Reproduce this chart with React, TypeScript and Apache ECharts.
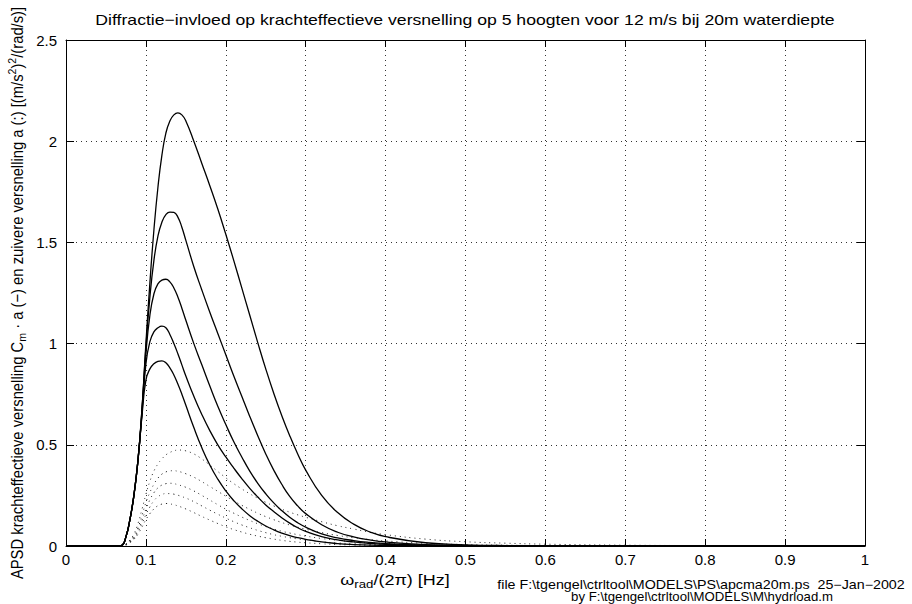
import React, { useEffect, useRef } from 'react';
import * as echarts from 'echarts';

// frequency axis (Hz) shared by all curves
const freq = [0,
  0.06, 0.065, 0.07, 0.075, 0.08, 0.085, 0.09, 0.095, 0.1, 0.105, 0.11, 0.115, 0.12, 0.125, 0.13, 0.135, 0.14, 0.145, 0.15,
  0.16, 0.17, 0.18, 0.19, 0.2, 0.21, 0.22, 0.23, 0.24, 0.25, 0.26, 0.27, 0.28, 0.29, 0.3,
  0.32, 0.34, 0.36, 0.38, 0.4,
  0.45, 0.5, 0.55, 0.6, 0.7, 0.8, 0.9, 1.0];

// Cm * a (solid) at 5 heights
const solid1 = [0,
  0, 0, 0.003, 0.045, 0.13, 0.25, 0.42, 0.67, 1.0, 1.3, 1.56, 1.77, 1.93, 2.04, 2.1, 2.13, 2.14, 2.13, 2.1,
  2.0, 1.89, 1.78, 1.665, 1.54, 1.41, 1.275, 1.14, 1.005, 0.875, 0.755, 0.645, 0.545, 0.455, 0.375,
  0.25, 0.165, 0.108, 0.07, 0.046,
  0.016, 0.006, 0.002, 0.001, 0, 0, 0, 0];
const solid2 = [0,
  0, 0, 0.003, 0.045, 0.13, 0.25, 0.42, 0.67, 0.98, 1.23, 1.41, 1.53, 1.6, 1.637, 1.65, 1.648, 1.625, 1.575, 1.51,
  1.38, 1.265, 1.155, 1.05, 0.945, 0.84, 0.74, 0.64, 0.545, 0.455, 0.375, 0.305, 0.245, 0.198, 0.16,
  0.105, 0.068, 0.045, 0.03, 0.02,
  0.007, 0.002, 0, 0, 0, 0, 0, 0];
const solid3 = [0,
  0, 0, 0.003, 0.045, 0.13, 0.25, 0.42, 0.66, 0.95, 1.14, 1.245, 1.295, 1.314, 1.318, 1.305, 1.275, 1.23, 1.175, 1.115,
  1.0, 0.895, 0.79, 0.69, 0.6, 0.515, 0.44, 0.37, 0.31, 0.258, 0.213, 0.175, 0.142, 0.115, 0.093,
  0.06, 0.04, 0.027, 0.018, 0.012,
  0.004, 0.001, 0, 0, 0, 0, 0, 0];
const solid4 = [0,
  0, 0, 0.003, 0.045, 0.13, 0.25, 0.42, 0.65, 0.9, 1.01, 1.058, 1.078, 1.086, 1.078, 1.045, 1.0, 0.95, 0.895, 0.84,
  0.74, 0.65, 0.57, 0.5, 0.44, 0.385, 0.333, 0.285, 0.242, 0.203, 0.17, 0.14, 0.113, 0.09, 0.072,
  0.046, 0.03, 0.02, 0.013, 0.008,
  0.002, 0, 0, 0, 0, 0, 0, 0];
const solid5 = [0,
  0, 0, 0.003, 0.045, 0.13, 0.25, 0.42, 0.64, 0.82, 0.875, 0.9, 0.912, 0.915, 0.905, 0.88, 0.845, 0.8, 0.75, 0.695,
  0.585, 0.485, 0.4, 0.33, 0.272, 0.224, 0.184, 0.15, 0.122, 0.099, 0.08, 0.064, 0.051, 0.041, 0.033,
  0.02, 0.012, 0.007, 0.004, 0.003,
  0.001, 0, 0, 0, 0, 0, 0, 0];

// pure acceleration a (dotted) at 5 heights
const dotted1 = [0,
  0, 0, 0.002, 0.01, 0.03, 0.06, 0.11, 0.18, 0.255, 0.32, 0.37, 0.405, 0.43, 0.45, 0.462, 0.47, 0.474, 0.474, 0.47,
  0.455, 0.43, 0.4, 0.368, 0.337, 0.308, 0.282, 0.258, 0.236, 0.216, 0.198, 0.182, 0.167, 0.154, 0.142,
  0.12, 0.1, 0.084, 0.068, 0.056,
  0.034, 0.021, 0.014, 0.009, 0.004, 0.002, 0.001, 0];
const dotted2 = [0,
  0, 0, 0.002, 0.008, 0.025, 0.05, 0.09, 0.15, 0.215, 0.265, 0.305, 0.335, 0.355, 0.366, 0.371, 0.372, 0.369, 0.364, 0.357,
  0.34, 0.318, 0.294, 0.27, 0.246, 0.223, 0.201, 0.181, 0.162, 0.145, 0.13, 0.116, 0.104, 0.093, 0.083,
  0.066, 0.052, 0.041, 0.032, 0.025,
  0.013, 0.007, 0.004, 0.002, 0.001, 0, 0, 0];
const dotted3 = [0,
  0, 0, 0.002, 0.007, 0.021, 0.043, 0.078, 0.127, 0.182, 0.228, 0.263, 0.287, 0.301, 0.308, 0.31, 0.308, 0.303, 0.297, 0.29,
  0.272, 0.25, 0.227, 0.204, 0.182, 0.162, 0.143, 0.126, 0.11, 0.096, 0.084, 0.073, 0.064, 0.056, 0.049,
  0.037, 0.028, 0.021, 0.016, 0.012,
  0.005, 0.002, 0.001, 0, 0, 0, 0, 0];
const dotted4 = [0,
  0, 0, 0.002, 0.006, 0.019, 0.038, 0.068, 0.11, 0.155, 0.193, 0.223, 0.243, 0.254, 0.259, 0.259, 0.256, 0.251, 0.244, 0.237,
  0.219, 0.198, 0.177, 0.157, 0.138, 0.12, 0.104, 0.09, 0.077, 0.066, 0.056, 0.048, 0.041, 0.035, 0.03,
  0.021, 0.015, 0.011, 0.008, 0.006,
  0.002, 0.001, 0, 0, 0, 0, 0, 0];
const dotted5 = [0,
  0, 0, 0.002, 0.005, 0.016, 0.033, 0.058, 0.093, 0.13, 0.16, 0.183, 0.199, 0.207, 0.21, 0.208, 0.204, 0.198, 0.191, 0.183,
  0.165, 0.146, 0.128, 0.111, 0.095, 0.081, 0.069, 0.058, 0.049, 0.041, 0.034, 0.028, 0.023, 0.019, 0.016,
  0.011, 0.007, 0.005, 0.003, 0.002,
  0.001, 0, 0, 0, 0, 0, 0, 0];

const solidCurves = [solid1, solid2, solid3, solid4, solid5];
const dottedCurves = [dotted1, dotted2, dotted3, dotted4, dotted5];

const titleText = 'Diffractie\u2212invloed op krachteffectieve versnelling op 5 hoogten voor 12 m/s bij 20m waterdiepte';
const fileLine1 = 'file F:\\tgengel\\ctrltool\\MODELS\\PS\\apcma20m.ps  25\u2212Jan\u22122002';
const fileLine2 = 'by F:\\tgengel\\ctrltool\\MODELS\\M\\hydrload.m';

const FONT = '"Liberation Sans", Arial, Helvetica, sans-serif';

export default function App() {
  const ref = useRef<HTMLDivElement>(null);
  useEffect(() => {
    if (!ref.current) return;
    const chart = echarts.init(ref.current, undefined, { renderer: 'svg' });
    const L = 66, R = 865, T = 40, B = 546;
    const gridLine = { show: true, lineStyle: { color: '#333', width: 1, type: [1, 4] as any } };
    const axisLine = { show: true, onZero: false, lineStyle: { color: '#000', width: 1 } };
    const series: any[] = [];
    dottedCurves.forEach((c, k) => {
      series.push({
        type: 'line', name: 'a' + (k + 1), xAxisIndex: 0, yAxisIndex: 0,
        data: freq.map((f, i) => [f, c[i]]), showSymbol: false, smooth: 0.5,
        lineStyle: { color: '#222', width: 1, type: [1, 4] }, silent: true, z: 3,
      });
    });
    solidCurves.forEach((c, k) => {
      series.push({
        type: 'line', name: 'Cm a' + (k + 1), xAxisIndex: 0, yAxisIndex: 0,
        data: freq.map((f, i) => [f, c[i]]), showSymbol: false, smooth: 0.5,
        lineStyle: { color: '#000', width: 1.3 }, silent: true, z: 4,
      });
    });
    chart.setOption({
      animation: false,
      backgroundColor: '#fff',
      grid: { left: L, right: 912 - R, top: T, bottom: 604 - B, containLabel: false },
      xAxis: [
        {
          type: 'value', min: 0, max: 1, interval: 0.1, position: 'bottom',
          axisLine, axisTick: { show: true, inside: true, length: 7, lineStyle: { color: '#000' } },
          axisLabel: { show: true, color: '#000', fontSize: 15, fontFamily: FONT, margin: 6 },
          splitLine: gridLine,
        },
        {
          type: 'value', min: 0, max: 1, interval: 0.1, position: 'top',
          axisLine, axisTick: { show: true, inside: true, length: 7, lineStyle: { color: '#000' } },
          axisLabel: { show: false }, splitLine: { show: false },
        },
      ],
      yAxis: [
        {
          type: 'value', min: 0, max: 2.5, interval: 0.5, position: 'left',
          axisLine, axisTick: { show: true, inside: true, length: 8, lineStyle: { color: '#000' } },
          axisLabel: { show: true, color: '#000', fontSize: 15, fontFamily: FONT, margin: 9 },
          splitLine: gridLine,
        },
        {
          type: 'value', min: 0, max: 2.5, interval: 0.5, position: 'right',
          axisLine, axisTick: { show: true, inside: true, length: 8, lineStyle: { color: '#000' } },
          axisLabel: { show: false }, splitLine: { show: false },
        },
      ],
      series,
      graphic: [
        {
          type: 'text', x: 465, y: 20, scaleX: 1.175,
          style: { text: titleText, fill: '#000', font: `15px ${FONT}`, align: 'center', verticalAlign: 'middle' },
        },
        {
          type: 'text', x: 395, y: 580, scaleX: 1.2,
          style: {
            text: '{a|ω}{s|rad}{a|/(2π) [Hz]}', align: 'center', verticalAlign: 'middle', fill: '#000',
            rich: {
              a: { fontSize: 15, fontFamily: FONT, lineHeight: 20, verticalAlign: 'middle', fill: '#000' },
              s: { fontSize: 11, fontFamily: FONT, lineHeight: 10, verticalAlign: 'bottom', fill: '#000' },
            },
          },
        },
        {
          type: 'text', x: 17, y: 293, rotation: Math.PI / 2, scaleY: 1.12,
          style: {
            text: '{a|APSD krachteffectieve versnelling C}{s|m}{a| · a (−) en zuivere versnelling a (:) [(m/s}{p|2}{a|)}{p|2}{a|/(rad/s)]}',
            align: 'center', verticalAlign: 'middle', fill: '#000',
            rich: {
              a: { fontSize: 14.8, fontFamily: FONT, lineHeight: 20, verticalAlign: 'middle', fill: '#000' },
              s: { fontSize: 10.5, fontFamily: FONT, lineHeight: 10, verticalAlign: 'bottom', fill: '#000' },
              p: { fontSize: 10.5, fontFamily: FONT, lineHeight: 10, verticalAlign: 'top', fill: '#000' },
            },
          },
        },
        {
          type: 'text', x: 701, y: 585, scaleX: 1.19,
          style: { text: fileLine1, fill: '#000', font: `12px ${FONT}`, align: 'center', verticalAlign: 'middle' },
        },
        {
          type: 'text', x: 702, y: 597, scaleX: 1.1,
          style: { text: fileLine2, fill: '#000', font: `12px ${FONT}`, align: 'center', verticalAlign: 'middle' },
        },
      ],
    });
    return () => chart.dispose();
  }, []);
  return <div ref={ref} style={{ position: 'absolute', left: 0, top: 0, width: 912, height: 604, background: '#fff' }} />;
}
